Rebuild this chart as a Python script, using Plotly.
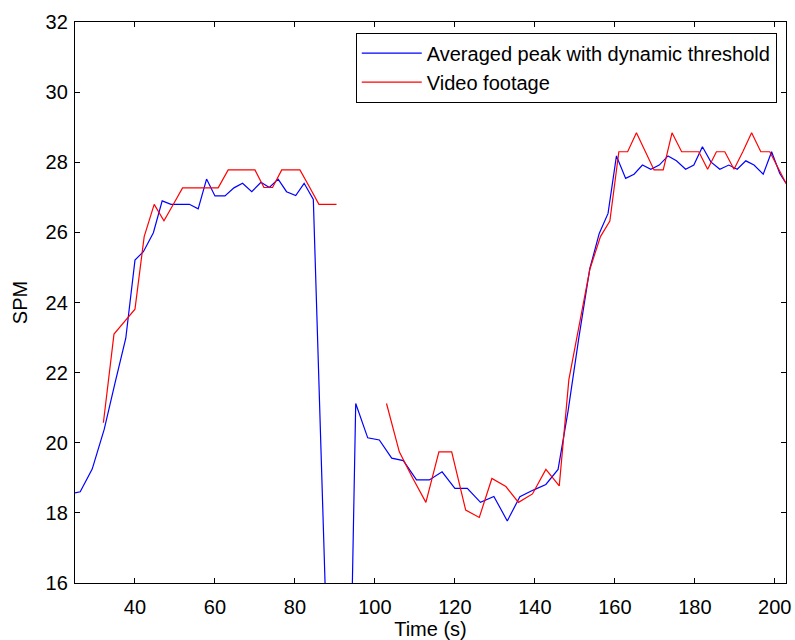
import plotly.graph_objects as go

# ---- data ----
blue_name = "Averaged peak with dynamic threshold"
red_name = "Video footage"

blue_t = [25, 26.3, 29.3, 32.3, 35.0, 37.7, 40.0, 42.1, 44.6, 46.8, 49.0, 51.3, 53.6, 55.8, 57.9,
          60.0, 62.5, 64.75, 66.9, 69.2, 71.5, 73.6, 75.8, 77.9, 80.2, 82.3, 84.6, 87.8, 94.2,
          95.2, 98.2, 101.1, 104.2, 107.1, 110.4, 113.6, 116.8, 120.0, 123.1, 126.4, 129.75,
          133.1, 136.25, 139.6, 142.75, 145.8, 148.3, 151.0, 153.75, 156.1, 158.3, 160.4, 162.7,
          164.8, 166.9, 169.0, 171.1, 173.3, 175.4, 177.7, 179.75, 181.9, 184.0, 186.25, 188.5,
          190.6, 192.75, 194.8, 197.1, 199.2, 201.25, 202.8]
blue_v = [18.57, 18.6, 19.25, 20.38, 21.7, 22.98, 25.21, 25.45, 25.99, 26.9, 26.8, 26.8, 26.8,
          26.67, 27.52, 27.04, 27.04, 27.27, 27.4, 27.16, 27.43, 27.28, 27.52, 27.16, 27.05, 27.4,
          26.94, 15.0, 15.0, 21.12, 20.14, 20.08, 19.56, 19.49, 18.94, 18.94, 19.17, 18.70, 18.70,
          18.30, 18.47, 17.77, 18.46, 18.65, 18.81, 19.24, 20.9, 23.0, 24.97, 25.97, 26.54, 28.18,
          27.54, 27.66, 27.92, 27.80, 27.92, 28.18, 28.04, 27.80, 27.92, 28.44, 28.01, 27.80,
          27.92, 27.80, 28.04, 27.92, 27.66, 28.30, 27.68, 27.40]

red_t = [32.1, 34.75, 40.0, 42.3, 44.8, 47.25, 49.6, 51.9, 56.4, 60.8, 63.3, 66.7, 70.0, 72.25,
         74.4, 76.7, 79.0, 81.25, 83.6, 86.0, 88.2, 90.4, 96.0, 102.9, 106.1, 109.4, 112.75, 116.0,
         119.2, 122.7, 126.1, 129.25, 132.75, 135.9, 139.4, 142.75, 146.1, 148.5, 151.2, 153.75,
         156.4, 158.75, 161.0, 163.2, 165.4, 167.6, 169.8, 172.1, 174.3, 176.7, 178.8, 181.0,
         183.2, 185.4, 187.5, 189.8, 192.0, 194.2, 196.5, 198.75, 202.9]
red_v = [20.57, 23.1, 23.81, 25.88, 26.8, 26.33, 26.8, 27.27, 27.27, 27.27, 27.78, 27.78, 27.78,
         27.28, 27.28, 27.78, 27.78, 27.78, 27.3, 26.8, 26.8, 26.8, None, 21.12, 19.74, 19.0,
         18.30, 19.74, 19.74, 18.08, 17.87, 18.98, 18.75, 18.30, 18.54, 19.24, 18.77, 21.8, 23.4,
         24.95, 25.88, 26.32, 28.30, 28.30, 28.84, 28.3, 27.78, 27.78, 28.84, 28.30, 28.30, 28.30,
         27.80, 28.30, 28.30, 27.80, 28.3, 28.84, 28.30, 28.30, 27.38]

x_ticks = [40, 60, 80, 100, 120, 140, 160, 180, 200]
y_ticks = [16, 18, 20, 22, 24, 26, 28, 30, 32]

FONT = "Liberation Sans, Arial, Helvetica, sans-serif"

fig = go.Figure()
fig.add_trace(go.Scatter(x=blue_t, y=blue_v, mode="lines", name=blue_name,
                         line=dict(color="#0000ff", width=1.2)))
fig.add_trace(go.Scatter(x=red_t, y=red_v, mode="lines", name=red_name, connectgaps=False,
                         line=dict(color="#ff0000", width=1.2)))

axis_common = dict(showgrid=False, zeroline=False, showline=True, linecolor="black",
                   linewidth=1.3, mirror="allticks", ticks="inside", ticklen=5,
                   tickcolor="black", tickwidth=1, tickfont=dict(size=20, color="black"),
                   automargin=False)

fig.update_layout(
    width=795, height=640,
    margin=dict(l=75, r=9, t=22, b=57),
    paper_bgcolor="white", plot_bgcolor="white",
    font=dict(family=FONT, size=20, color="black"),
    xaxis=dict(range=[25, 202.8], tickvals=x_ticks, ticktext=[str(v) for v in x_ticks],
               title=dict(text="Time (s)", standoff=0, font=dict(size=20)),
               ticklabelstandoff=6, **axis_common),
    yaxis=dict(range=[16, 32], tickvals=y_ticks, ticktext=[str(v) for v in y_ticks],
               title=dict(text="SPM", standoff=12, font=dict(size=20)),
               ticklabelstandoff=2, **axis_common),
    legend=dict(x=0.987, xanchor="right", y=0.981, yanchor="top",
                bordercolor="black", borderwidth=1, bgcolor="white",
                font=dict(size=20), tracegroupgap=0, itemwidth=60),
    showlegend=True,
)

fig.write_html("out.html")
